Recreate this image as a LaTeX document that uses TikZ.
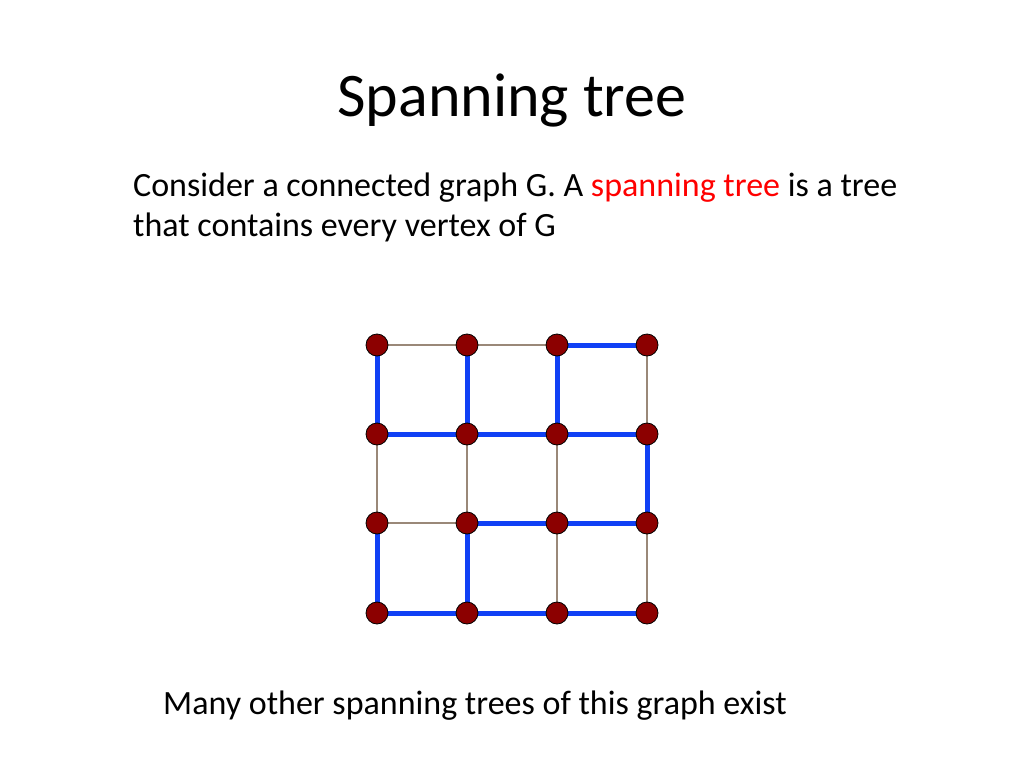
\documentclass[tikz,border=0pt]{standalone}
\usepackage{fontspec}
\setmainfont{Carlito}
\definecolor{treeblue}{HTML}{1040F5}
\definecolor{thinbrown}{HTML}{9A8878}
\begin{document}
\begin{tikzpicture}[x=1pt,y=-1pt,
  vert/.style={circle,fill=red!55!black,draw=black,line width=0.8pt,minimum size=22pt,inner sep=0pt},
  thin/.style={draw=thinbrown,line width=1.5pt},
  tree/.style={draw=treeblue,line width=5pt}]
\useasboundingbox (0,0) rectangle (1024,768);
\node[anchor=base,font=\fontsize{62}{66}\selectfont] (title) at (512,116) {Spanning tree};
\node[anchor=base west,inner sep=0pt,font=\fontsize{34}{40}\selectfont] (l1) at (133,196) {Consider a connected graph G. A \textcolor{red}{spanning tree} is a tree};
\node[anchor=base west,inner sep=0pt,font=\fontsize{34}{40}\selectfont] (l2) at (133,236) {that contains every vertex of G};
\node[anchor=base west,inner sep=0pt,font=\fontsize{34}{40}\selectfont] (l3) at (163,714) {Many other spanning trees of this graph exist};
\foreach \i/\x in {1/377,2/467,3/557,4/647}
  \foreach \j/\y in {1/345,2/434,3/523,4/613}
    \coordinate (c\i\j) at (\x,\y);
\foreach \a/\b in {c11/c21,c21/c31,c13/c23,c12/c13,c22/c23,c32/c33,c33/c34,c41/c42,c43/c44}
  \draw[thin] (\a) -- (\b);
\foreach \a/\b in {c31/c41,c12/c22,c22/c32,c32/c42,c23/c33,c33/c43,c14/c24,c24/c34,c34/c44,
  c11/c12,c13/c14,c21/c22,c23/c24,c31/c32,c42/c43}
  \draw[tree] (\a) -- (\b);
\foreach \i in {1,2,3,4}
  \foreach \j in {1,2,3,4}
    \node[vert] (v\i\j) at (c\i\j) {};
\end{tikzpicture}
\end{document}
